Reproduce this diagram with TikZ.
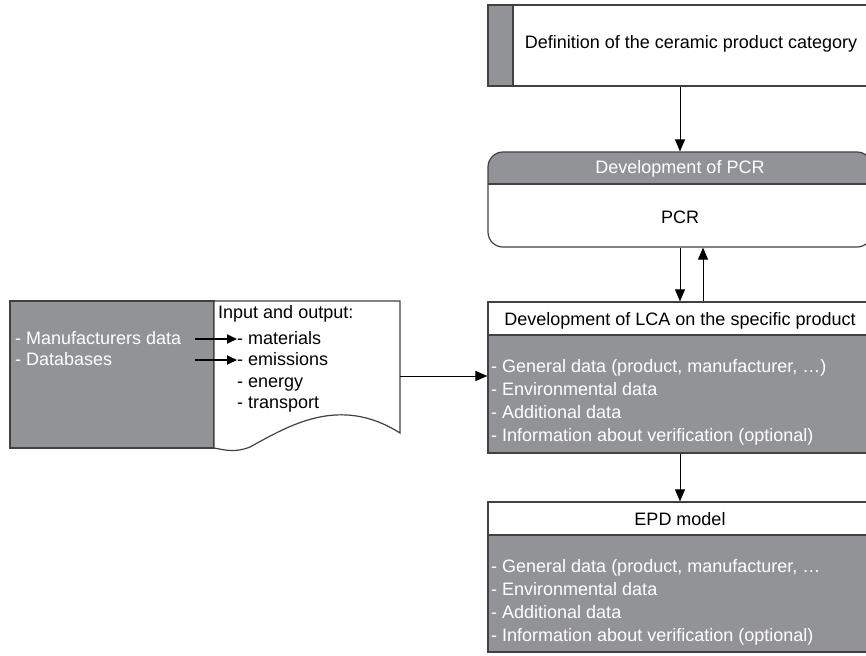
\documentclass[tikz,border=0pt]{standalone}
\usepackage{fontspec}
\setmainfont{Liberation Sans}
\usetikzlibrary{arrows.meta}
\definecolor{boxgray}{RGB}{146,147,151}
\definecolor{edgegray}{RGB}{65,65,65}

\begin{document}
\begin{tikzpicture}[x=1pt,y=-1pt,font=\fontsize{18}{23}\selectfont,
    edge/.style={draw=edgegray,line width=1.2pt},
    link/.style={-{Triangle[length=12pt,width=10pt]},line width=0.9pt},
    fat/.style={-{Triangle[length=10pt,width=9pt]},line width=1.8pt},
    lbl/.style={inner sep=0pt,anchor=base},
    item/.style={inner sep=0pt,anchor=base west}]
		%%%%% START %%%%%
		\useasboundingbox (0,0) rectangle (866,655);
		\clip (0,0) rectangle (866,655);
		
		% category
		\node[edge,minimum width=384pt,minimum height=81pt,inner sep=0pt] (defn) at (680,45.5) {};
		\fill[boxgray] (488,5) rectangle (513,86);
		\draw[edge] (513,5) -- (513,86);
		\draw[edge] (488,5) rectangle (872,86);
		\node[lbl] (defntext) at (691,49) {Definition of the ceramic product category};
		
		% PCR
		\begin{scope}
			\clip[rounded corners=15pt] (488,152) rectangle (872,247);
			\fill[boxgray] (488,152) rectangle (872,184);
		\end{scope}
		\draw[edge] (488,184) -- (872,184);
		\node[edge,rounded corners=15pt,minimum width=384pt,minimum height=95pt,inner sep=0pt] (pcr) at (680,199.5) {};
		\node[lbl,text=white] (pcrhead) at (680,174) {Development of PCR};
		\node[lbl] (pcrtext) at (680,223) {PCR};
		
		% LCA
		\fill[boxgray] (488,335) rectangle (872,453);
		\draw[edge] (488,335) -- (872,335);
		\node[edge,minimum width=384pt,minimum height=151pt,inner sep=0pt] (lca) at (680,377.5) {};
		\node[lbl] (lcahead) at (680,325) {Development of LCA on the specific product};
		
		% EPD
		\fill[boxgray] (488,535) rectangle (872,652);
		\draw[edge] (488,535) -- (872,535);
		\node[edge,minimum width=384pt,minimum height=150pt,inner sep=0pt] (epd) at (680,577) {};
		\node[lbl] (epdhead) at (680,525) {EPD model};
		
		\foreach \t [count=\i] in {{General data (product, manufacturer, …)},
		                           Environmental data, Additional data,
		                           Information about verification (optional)}
			\node[item,text=white] (lcaline\i) at (491,{348.7+23.3*\i}) {- \t};
		\foreach \t [count=\i] in {{General data (product, manufacturer, …},
		                           Environmental data, Additional data,
		                           Information about verification (optional)}
			\node[item,text=white] (epdline\i) at (491,{548.7+23.3*\i}) {- \t};
		
		% sources and document
		\node[edge,fill=boxgray,minimum width=204pt,minimum height=147pt,inner sep=0pt] (src) at (112,374.5) {};
		\draw[edge,fill=white] (214,301) -- (400,301) -- (400,433)
			.. controls (340,395) and (290,425) .. (250,447)
			.. controls (235,453) and (225,450) .. (214,448) -- cycle;
		\coordinate (docout) at (400,376);
		\node[item,text=white] (manu) at (15,344) {- Manufacturers data};
		\node[item,text=white] (dbase) at (15,365) {- Databases};
		\node[item] (inout) at (218,318) {Input and output:};
		\node[item] (mat) at (237,344) {- materials};
		\node[item] (emis) at (237,365) {- emissions};
		\node[item] (ener) at (237,387) {- energy};
		\node[item] (trans) at (237,408) {- transport};
		
		% connectors
		\draw[fat] (195,339) -- (mat.west |- 0,339);
		\draw[fat] (195,360) -- (emis.west |- 0,360);
		\draw[link] (docout) -- (lca.west |- docout);
		\draw[link] (defn.south) -- (pcr.north);
		\draw[link] (pcr.south) -- (lca.north);
		\draw[link] ([xshift=23pt]lca.north) -- ([xshift=23pt]pcr.south);
		\draw[link] (lca.south) -- (epd.north);
		%%%%% END %%%%%
\end{tikzpicture}
\end{document}
